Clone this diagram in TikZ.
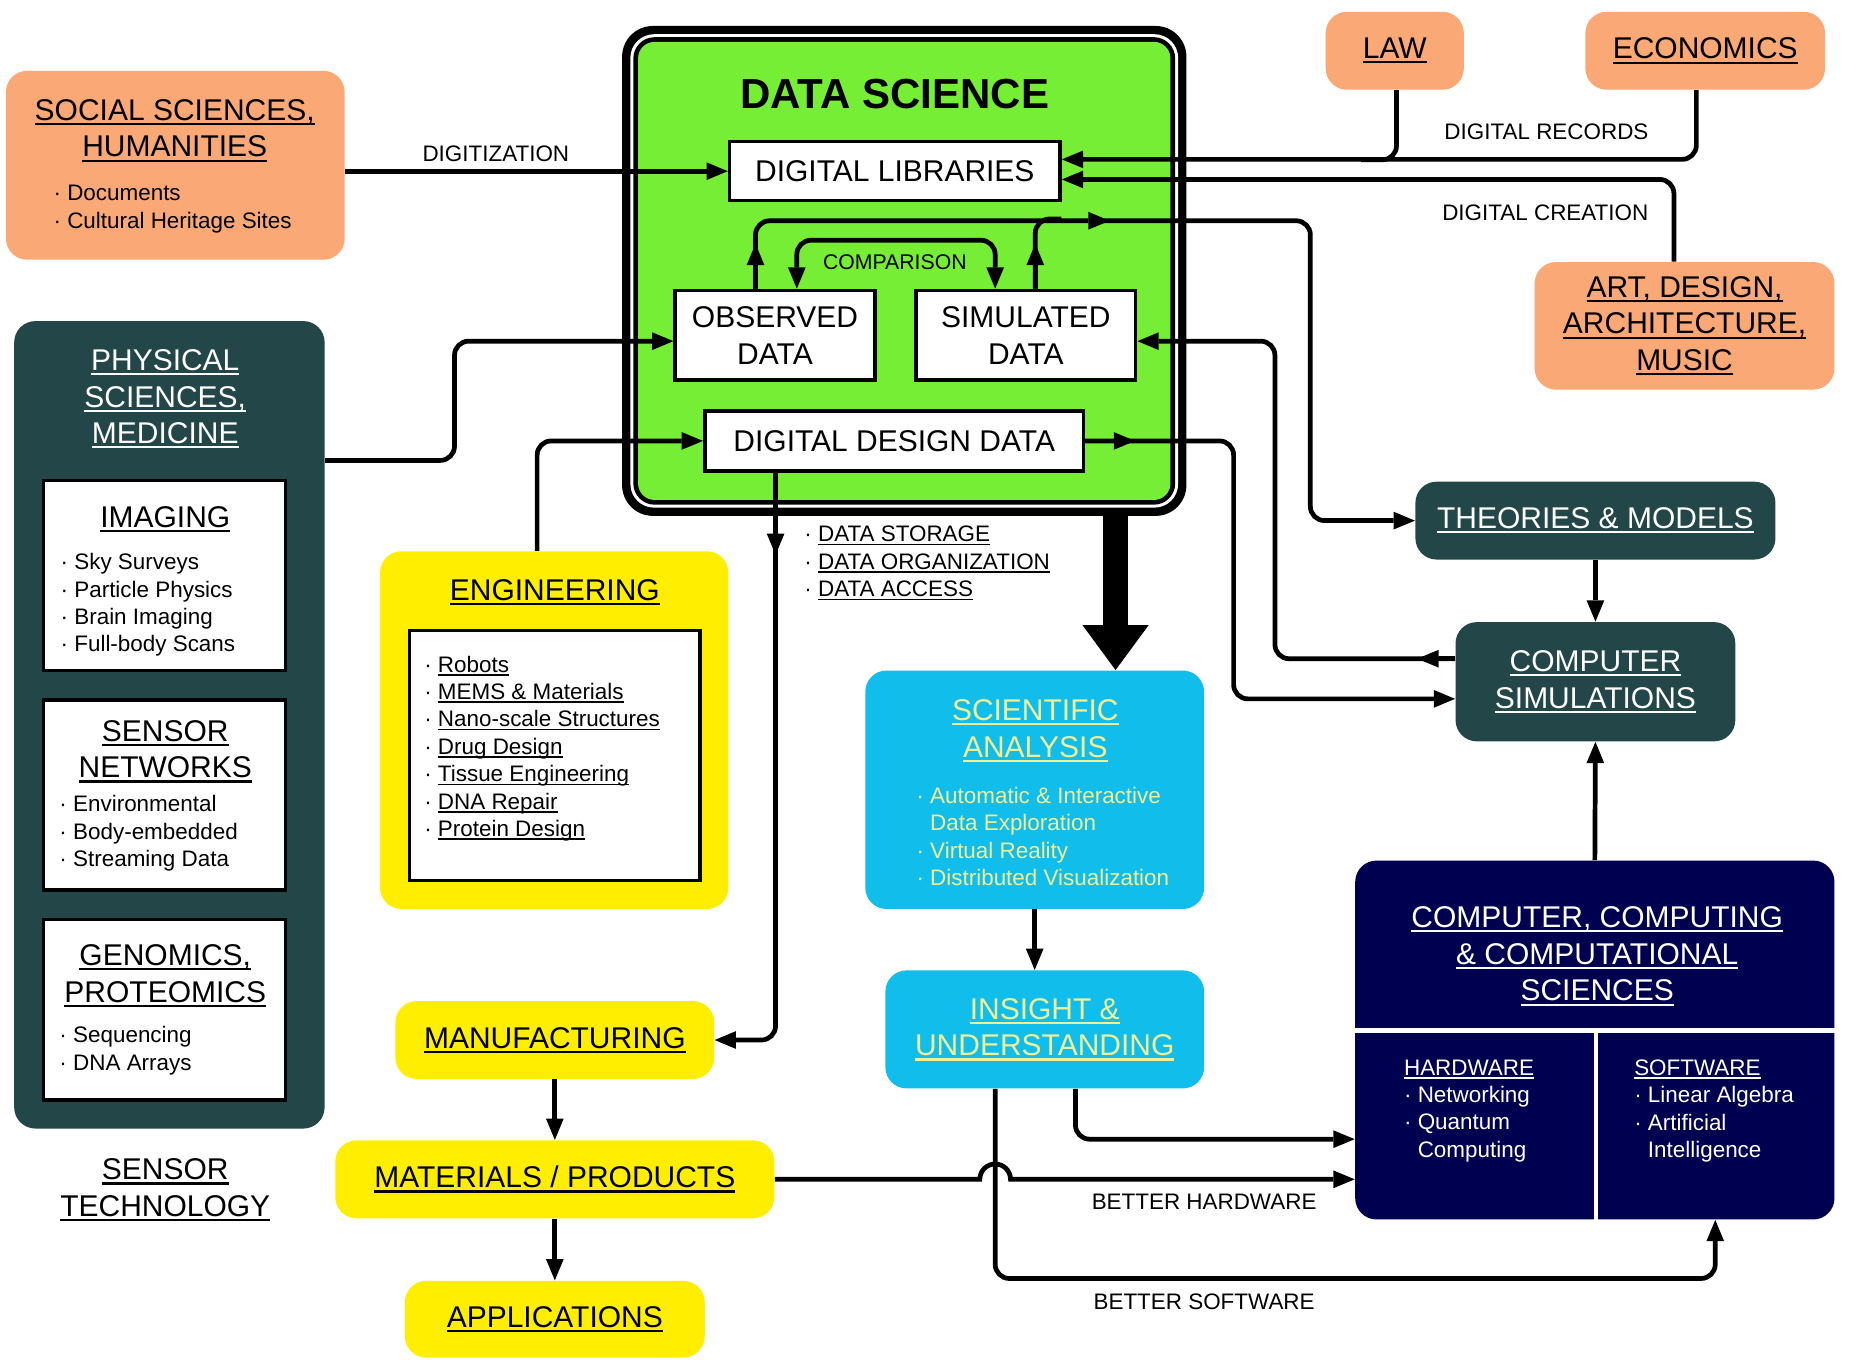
\documentclass[tikz,border=0pt]{standalone}
\usepackage{fontspec}
\setmainfont{Liberation Sans}
\usepackage{tikz}
\usetikzlibrary{fit}
\usetikzlibrary{arrows.meta}
\definecolor{peach}{RGB}{250, 168, 118}
\definecolor{grass}{RGB}{118, 238, 54}
\definecolor{deepteal}{RGB}{35, 70, 72}
\definecolor{canary}{RGB}{255, 238, 0}
\definecolor{skyblue}{RGB}{17, 189, 235}
\definecolor{midnight}{RGB}{0, 0, 80}
\definecolor{pale}{RGB}{240, 240, 150}
\newcommand{\hdfont}{\fontsize{12.7}{15.5}\selectfont}
\newcommand{\smfont}{\fontsize{9.5}{11.6}\selectfont}
\newcommand{\uln}[1]{\begingroup\setbox0=\hbox{#1}\leavevmode\rlap{\rule[-0.16em]{\wd0}{0.07em}}\box0\endgroup}
\tikzset{
  >={Triangle[length=9pt,width=7.5pt,line width=0pt]},
  peachbox/.style={fill=peach, rounded corners=9pt, inner sep=0pt},
  tealbox/.style={fill=deepteal, rounded corners=9pt, inner sep=0pt},
  canarybox/.style={fill=canary, rounded corners=9pt, inner sep=0pt},
  skybox/.style={fill=skyblue, rounded corners=9pt, inner sep=0pt},
  navybox/.style={fill=midnight, rounded corners=9pt, inner sep=0pt},
  whitebox/.style={fill=white, draw=black, line width=1.5pt, inner sep=0pt},
  hd/.style={font=\hdfont, align=center, inner sep=0pt},
  sm/.style={font=\smfont, align=left, inner sep=0pt},
  wire/.style={line width=2pt, rounded corners=6pt},
  flow/.style={wire, ->}
}
\begin{document}
\begin{tikzpicture}[x=0.5pt, y=-0.5pt]
  \useasboundingbox (0,0) rectangle (1568,1152);
  % data science block
  \node[fit={(527,22) (1005,437)}, fill=black, rounded corners=13pt, inner sep=0pt] (ds) {};
  \fill[white, rounded corners=10pt]  (534,29)     rectangle (998,430);
  \fill[black, rounded corners=9pt]   (536.5,31.5) rectangle (995.5,427.5);
  \fill[grass, rounded corners=7pt]   (540.5,35.5) rectangle (991.5,423.5);
  \node[font=\fontsize{17.8}{20}\selectfont\bfseries, inner sep=0pt] (dstitle) at (758,80) {DATA SCIENCE};
  \node[whitebox, hd, minimum width=140pt, minimum height=25pt] (libs) at (758,145) {DIGITAL LIBRARIES};
  \node[whitebox, hd, minimum width=84.5pt, minimum height=38pt] (obs) at (656.5,284) {OBSERVED\\DATA};
  \node[whitebox, hd, minimum width=93pt, minimum height=38pt] (sim) at (869,284) {SIMULATED\\DATA};
  \node[whitebox, hd, minimum width=160.5pt, minimum height=25.5pt] (design) at (757.5,373.5) {DIGITAL DESIGN DATA};
  \node[font=\fontsize{9}{11}\selectfont, inner sep=0pt] (cmp) at (758,222) {COMPARISON};

  % outer domains
  \node[peachbox, fit={(5,60) (292,220)}] (social) {};
  \node[hd] (socialttl) at (148,110.5) {\uln{SOCIAL SCIENCES,}\\\uln{HUMANITIES}};
  \node[sm, anchor=west] (sociallist) at (45,177) {· Documents\\· Cultural Heritage Sites};
  \node[peachbox, hd, minimum width=58.5pt, minimum height=33pt] (law) at (1181.5,43) {\uln{LAW}};
  \node[peachbox, hd, minimum width=101.5pt, minimum height=33pt] (econ) at (1444.5,43) {\uln{ECONOMICS}};
  \node[peachbox, hd, minimum width=127pt, minimum height=54pt] (art) at (1427,276) {\uln{ART, DESIGN,}\\\uln{ARCHITECTURE,}\\\uln{MUSIC}};

  \node[tealbox, fit={(12,272) (275,956)}] (phys) {};
  \node[hd, text=white] (physttl) at (140,338) {\uln{PHYSICAL}\\\uln{SCIENCES,}\\\uln{MEDICINE}};
  \node[whitebox, fit={(37,407) (242,568)}] (imaging) {};
  \node[hd] (imagingttl) at (140,440) {\uln{IMAGING}};
  \node[sm, anchor=west] (imaginglist) at (51,512.5) {· Sky Surveys\\· Particle Physics\\· Brain Imaging\\· Full-body Scans};
  \node[whitebox, fit={(37,593) (242,754)}] (sensnet) {};
  \node[hd] (sensnetttl) at (140,636.5) {\uln{SENSOR}\\\uln{NETWORKS}};
  \node[sm, anchor=west] (sensnetlist) at (50,706) {· Environmental\\· Body-embedded\\· Streaming Data};
  \node[whitebox, fit={(37,779) (242,932)}] (genom) {};
  \node[hd] (genomttl) at (140,826.5) {\uln{GENOMICS,}\\\uln{PROTEOMICS}};
  \node[sm, anchor=west] (genomlist) at (50,890) {· Sequencing\\· DNA Arrays};
  \node[hd] (senstech) at (140,1008) {\uln{SENSOR}\\\uln{TECHNOLOGY}};

  \node[canarybox, fit={(322,467) (617,770)}] (eng) {};
  \node[hd] (engttl) at (470,502) {\uln{ENGINEERING}};
  \node[whitebox, fit={(347,534) (593,746)}] (englist) {};
  \node[sm, anchor=west] (engitems) at (359,634) {· \uln{Robots}\\· \uln{MEMS \& Materials}\\· \uln{Nano-scale Structures}\\· \uln{Drug Design}\\· \uln{Tissue Engineering}\\· \uln{DNA Repair}\\· \uln{Protein Design}};
  \node[canarybox, hd, minimum width=135pt, minimum height=33pt] (manuf) at (470,881) {\uln{MANUFACTURING}};
  \node[canarybox, hd, minimum width=186pt, minimum height=33pt] (mater) at (470,999) {\uln{MATERIALS / PRODUCTS}};
  \node[canarybox, hd, minimum width=127pt, minimum height=32.5pt] (appl) at (470,1117.5) {\uln{APPLICATIONS}};

  \node[skybox, fit={(733,568) (1020,770)}] (sci) {};
  \node[hd, text=pale] (scittl) at (877,619) {\uln{SCIENTIFIC}\\\uln{ANALYSIS}};
  \node[sm, text=pale, anchor=west] (scilist) at (776,708.5) {· Automatic \& Interactive\\\phantom{· }Data Exploration\\· Virtual Reality\\· Distributed Visualization};
  \node[skybox, hd, text=pale, minimum width=135pt, minimum height=50pt] (insight) at (885,872) {\uln{INSIGHT \&}\\\uln{UNDERSTANDING}};

  \node[tealbox, hd, text=white, minimum width=152.5pt, minimum height=33pt] (theo) at (1351.5,441) {\uln{THEORIES \& MODELS}};
  \node[tealbox, hd, text=white, minimum width=118.5pt, minimum height=50.5pt] (csim) at (1351.5,577.5) {\uln{COMPUTER}\\\uln{SIMULATIONS}};
  \node[navybox, fit={(1148,729) (1554,1033)}] (comp) {};
  \node[hd, text=white] (compttl) at (1353,810) {\uln{COMPUTER, COMPUTING}\\\uln{\& COMPUTATIONAL}\\\uln{SCIENCES}};
  \draw[white, line width=2pt] (comp.west |- 0,873) -- (comp.east |- 0,873);
  \draw[white, line width=2pt] (1352,873) -- (comp.south -| 1352,0);
  \node[sm, text=white, anchor=west] (hw) at (1189,941) {\uln{HARDWARE}\\· Networking\\· Quantum\\\phantom{· }Computing};
  \node[sm, text=white, anchor=west] (sw) at (1384,941) {\uln{SOFTWARE}\\· Linear Algebra\\· Artificial\\\phantom{· }Intelligence};

  % labels
  \node[sm] (digitization) at (420,130) {DIGITIZATION};
  \node[sm] (records) at (1310,112) {DIGITAL RECORDS};
  \node[sm] (creation) at (1309,180) {DIGITAL CREATION};
  \node[sm, anchor=west] (storage) at (681,477) {· \uln{DATA STORAGE}\\· \uln{DATA ORGANIZATION}\\· \uln{DATA ACCESS}};
  \node[sm] (betterhw) at (1020,1018) {BETTER HARDWARE};
  \node[sm] (bettersw) at (1020,1103) {BETTER SOFTWARE};

  % into digital libraries
  \draw[flow] (social.east |- libs.west) -- (libs.west);
  \draw[flow] (econ.south -| 1437,0) |- ([yshift=5pt]libs.east);
  \draw[wire] (law.south -| 1183,0) |- ++(-30,59);
  \draw[flow] (art.north -| 1418,0) |- ([yshift=-3.5pt]libs.east);

  % into data science
  \draw[flow] (phys.east |- 0,390) -| (385,330) |- ([yshift=-2.5pt]obs.west);
  \draw[flow] ([xshift=-7.25pt]eng.north) |- (design.west);
  \draw[flow] (design.south -| 657,0) -- (657,470);
  \draw[flow] (657,455) |- (manuf.east);

  % inside data science
  \draw[wire, <->] (obs.north -| 675,0) -- ++(0,-41) -| (sim.north -| 843,0);
  \draw[flow] (obs.north -| 640,0) -- ++(0,-38);
  \draw[flow] (sim.north -| 877,0) -- ++(0,-38);
  \draw[flow] (obs.north -| 640,0) |- (940,187);
  \draw[wire] (sim.north -| 877,0) |- ++(22,-59);
  \draw[flow] (928,187) -| (1110,300) |- (theo.west);
  \draw[flow] (design.east) -- ++(42,0);
  \draw[flow] (design.east) -| (1045,480) |- ([yshift=-7.25pt]csim.west);
  \draw[flow] ([yshift=9.75pt]csim.west) -- ++(-32,0);
  \draw[flow] ([yshift=9.75pt]csim.west) -| (1080,420) |- ([yshift=-2.5pt]sim.east);
  \draw[flow] (theo.south) -- (csim.north);
  \draw[flow] (comp.north) -- (csim.south);

  % analysis
  \draw[line width=10.5pt, -{Triangle[length=19pt,width=28pt,line width=0pt]}] (ds.south -| 945,0) -- (sci.north -| 945,0);
  \draw[flow] (sci.south) -- (sci.south |- insight.north);
  \draw[flow] (insight.south -| 911,0) |- ([yshift=-42pt]comp.west);
  \draw[flow] (insight.south -| 843,0) |- (1200,1083) -| (comp.south -| 1453,0);
  \draw[flow, sharp corners] (mater.east) -- (830,999) arc[start angle=180, end angle=0, radius=6.5pt] -- ([yshift=-59pt]comp.west);

  % production chain
  \draw[flow] (manuf.south) -- (mater.north);
  \draw[flow] (mater.south) -- (appl.north);
\end{tikzpicture}
\end{document}
